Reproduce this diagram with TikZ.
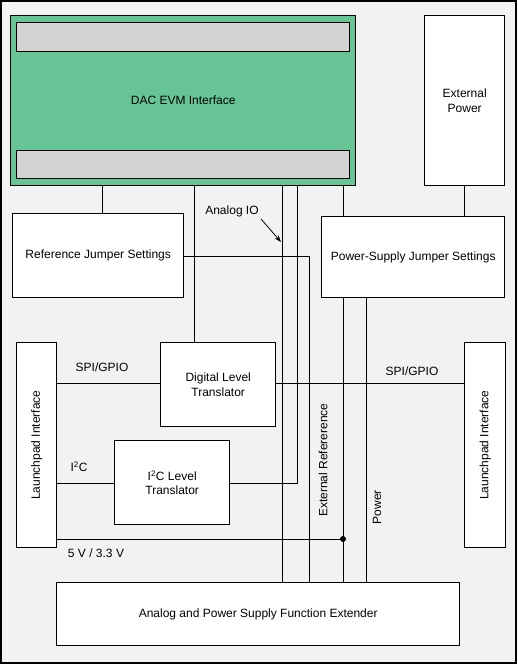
\documentclass[tikz,border=0pt]{standalone}
\usepackage{fontspec}
\setmainfont{Liberation Sans}
\usepackage{xcolor}
\usetikzlibrary{arrows.meta,positioning}
\definecolor{BGray}{RGB}{242,242,242}
\definecolor{EGreen}{RGB}{102,196,149}
\definecolor{SGray}{RGB}{211,211,211}

\tikzset{
  blockbox/.style={draw, line width=1.4pt, fill=white, anchor=north west,
    align=center, inner sep=0pt, font=\fontsize{12}{14.5}\selectfont},
  wire/.style={line width=0.8pt},
  lbl/.style={font=\fontsize{12}{14.5}\selectfont, inner sep=1pt}
}

\begin{document}
\begin{tikzpicture}[x=1pt,y=-1pt]
  % frame
  \draw[line width=1.4pt, fill=BGray] (1,1) rectangle (516,663);
  \useasboundingbox (0,0) rectangle (518,665);

  % boxes
  \node[blockbox, fill=EGreen, minimum width=345pt, minimum height=170pt] (dac) at (10,15) {DAC EVM Interface};
  \node[blockbox, fill=SGray, minimum width=333pt, minimum height=29pt] (dactop) at (16,22) {};
  \node[blockbox, fill=SGray, minimum width=333pt, minimum height=28pt] (dacbot) at (16,150) {};
  \node[blockbox, minimum width=80pt, minimum height=170pt] (extpwr) at (424,15) {External\\Power};
  \node[blockbox, minimum width=171pt, minimum height=84pt] (refjmp) at (12,213) {Reference Jumper Settings};
  \node[blockbox, minimum width=183pt, minimum height=81pt] (psjmp) at (321,216) {Power-Supply Jumper Settings};
  \node[blockbox, minimum width=40pt, minimum height=205pt] (lpleft) at (16,342) {\rotatebox{90}{Launchpad Interface}};
  \node[blockbox, minimum width=41pt, minimum height=205pt] (lpright) at (464,342) {\rotatebox{90}{Launchpad Interface}};
  \node[blockbox, minimum width=115pt, minimum height=84pt] (dlt) at (160,342) {Digital Level\\Translator};
  \node[blockbox, minimum width=115pt, minimum height=84pt] (ilt) at (114,440) {I\textsuperscript{2}C Level\\Translator};
  \node[blockbox, minimum width=403pt, minimum height=63pt] (ext) at (56,582) {Analog and Power Supply Function Extender};

  % connectors
  \draw[wire] (102,0 |- dac.south) -- (102,0 |- refjmp.north);
  \draw[wire] (194,0 |- dac.south) -- (194,0 |- dlt.north);
  \draw[wire] (282,0 |- dac.south) -- (282,0 |- ext.north);
  \draw[wire] (297,0 |- dac.south) -- (297,483) -- (ilt.east |- 0,483);
  \draw[wire] (343,0 |- dac.south) -- (343,0 |- psjmp.north);
  \draw[wire] (464,0 |- extpwr.south) -- (464,0 |- psjmp.north);
  \draw[wire] (refjmp.east |- 0,256) -- (309,256) -- (309,0 |- ext.north);
  \draw[wire] (343,0 |- psjmp.south) -- (343,0 |- ext.north);
  \draw[wire] (366,0 |- psjmp.south) -- (366,0 |- ext.north);
  \draw[wire] (lpleft.east |- 0,383) -- (dlt.west |- 0,383);
  \draw[wire] (dlt.east |- 0,383) -- (lpright.west |- 0,383);
  \draw[wire] (lpleft.east |- 0,483) -- (ilt.west |- 0,483);
  \coordinate (pwrdot) at (343,539);
  \draw[wire] (lpleft.east |- pwrdot) -- (pwrdot);
  \fill (pwrdot) circle (3pt);

  % labels
  \node[lbl] (spil) at (102,367) {SPI/GPIO};
  \node[lbl] (spir) at (412,371) {SPI/GPIO};
  \node[lbl] (i2cl) at (79,467) {I\textsuperscript{2}C};
  \node[lbl] (volt) at (96,553) {5 V / 3.3 V};
  \node[lbl] (aio) at (232,211) {Analog IO};
  \draw[wire, -{Stealth[length=7pt,width=5pt]}] (261,219) -- (281,242);
  \node[lbl, rotate=90] (extref) at (323,460) {External Refererence};
  \node[lbl, rotate=90] (pwr) at (377,507) {Power};
\end{tikzpicture}
\end{document}
